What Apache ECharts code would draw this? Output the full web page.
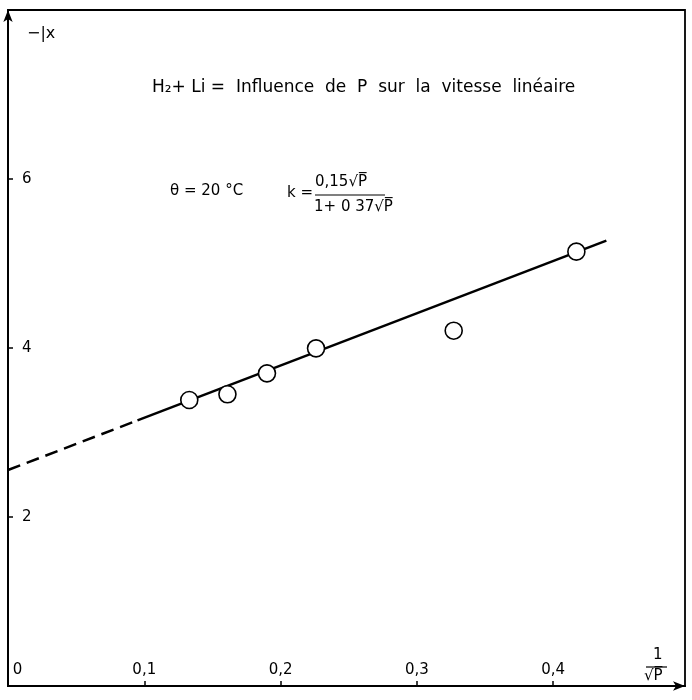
<!DOCTYPE html>
<html>
<head>
<meta charset="utf-8">
<script src="https://cdn.jsdelivr.net/npm/echarts@6/dist/echarts.min.js"></script>
<style>
html,body{margin:0;padding:0;background:#fff;}
#chart{width:692px;height:700px;}
</style>
</head>
<body>
<div id="chart"></div>
<script>
// Measured points (1/√P, -lx)
const pointsX = [0.133, 0.161, 0.190, 0.226, 0.327, 0.417];
const pointsY = [3.385, 3.452, 3.70, 3.996, 4.205, 5.14];
// Fitted straight line: solid part and dashed extrapolation
const fitSolidX = [0.095, 0.439];
const fitSolidY = [3.143, 5.27];
const fitDashedX = [0, 0.095];
const fitDashedY = [2.556, 3.143];
// Tick labels
const xTickValues = [0, 0.1, 0.2, 0.3, 0.4];
const xTickLabels = [' 0', '0,1', '0,2', '0,3', '0,4'];
const yTickValues = [2, 4, 6];
const yTickLabels = ['2', '4', '6'];

const FONT = '"DejaVu Sans", sans-serif';
const zip = (a, b) => a.map((v, i) => [v, b[i]]);
const labelFor = (vals, labs) => (v) => {
  const i = vals.findIndex(t => Math.abs(t - v) < 1e-6);
  return i >= 0 ? labs[i] : '';
};

const chart = echarts.init(document.getElementById('chart'), null, {renderer: 'canvas'});
chart.setOption({
  backgroundColor: '#fff',
  animation: false,
  grid: {left: 8, right: 7, top: 10, bottom: 14, show: true, borderColor: '#000', borderWidth: 1.8, backgroundColor: 'transparent'},
  xAxis: {
    type: 'value', min: 0, max: 0.4967, interval: 0.1,
    axisLine: {show: true, symbol: ['none', 'arrow'], symbolSize: [7, 12], lineStyle: {color: '#000', width: 2}},
    axisTick: {show: true, inside: true, length: 5, lineStyle: {color: '#000', width: 1.5}},
    axisLabel: {inside: true, margin: 8, fontSize: 15, fontFamily: FONT, color: '#000',
      showMaxLabel: false, alignMinLabel: 'left', formatter: labelFor(xTickValues, xTickLabels)},
    splitLine: {show: false}
  },
  yAxis: {
    type: 'value', min: 0, max: 8, interval: 2,
    axisLine: {show: true, symbol: ['none', 'arrow'], symbolSize: [7, 12], lineStyle: {color: '#000', width: 2}},
    axisTick: {show: true, inside: true, length: 5, lineStyle: {color: '#000', width: 1.5}},
    axisLabel: {inside: true, margin: 14, fontSize: 15, fontFamily: FONT, color: '#000',
      showMinLabel: false, showMaxLabel: false, formatter: labelFor(yTickValues, yTickLabels)},
    splitLine: {show: false}
  },
  series: [
    {type: 'line', data: zip(fitDashedX, fitDashedY), symbol: 'none', silent: true,
     lineStyle: {color: '#000', width: 2.5, type: [13, 7]}, z: 2},
    {type: 'line', data: zip(fitSolidX, fitSolidY), symbol: 'none', silent: true,
     lineStyle: {color: '#000', width: 2.5}, z: 2},
    {type: 'scatter', data: zip(pointsX, pointsY), symbol: 'circle', symbolSize: 17,
     itemStyle: {color: '#fff', borderColor: '#000', borderWidth: 1.6, opacity: 1}, z: 5}
  ],
  graphic: [
    {type: 'text', left: 27, top: 26, style: {text: '−|x', font: '16px ' + FONT, fill: '#000'}},
    {type: 'text', left: 152, top: 79, style: {text: 'H₂+ Li =  Influence  de  P  sur  la  vitesse  linéaire', font: '17px ' + FONT, fill: '#000'}},
    {type: 'text', left: 170, top: 184, style: {text: 'θ = 20 °C', font: '15px ' + FONT, fill: '#000'}},
    {type: 'text', left: 287, top: 186, style: {text: 'k =', font: '15px ' + FONT, fill: '#000'}},
    {type: 'text', left: 315, top: 175, style: {text: '0,15√P̅', font: '15px ' + FONT, fill: '#000'}},
    {type: 'line', shape: {x1: 315, y1: 195, x2: 385, y2: 195}, style: {stroke: '#000', lineWidth: 1.2}},
    {type: 'text', left: 314, top: 200, style: {text: '1+ 0 37√P̅', font: '15px ' + FONT, fill: '#000'}},
    {type: 'text', left: 653, top: 648, style: {text: '1', font: '15px ' + FONT, fill: '#000'}},
    {type: 'line', shape: {x1: 646, y1: 667, x2: 667, y2: 667}, style: {stroke: '#000', lineWidth: 1.2}},
    {type: 'text', left: 644, top: 669, style: {text: '√P̅', font: '15px ' + FONT, fill: '#000'}}
  ]
});
</script>
</body>
</html>
